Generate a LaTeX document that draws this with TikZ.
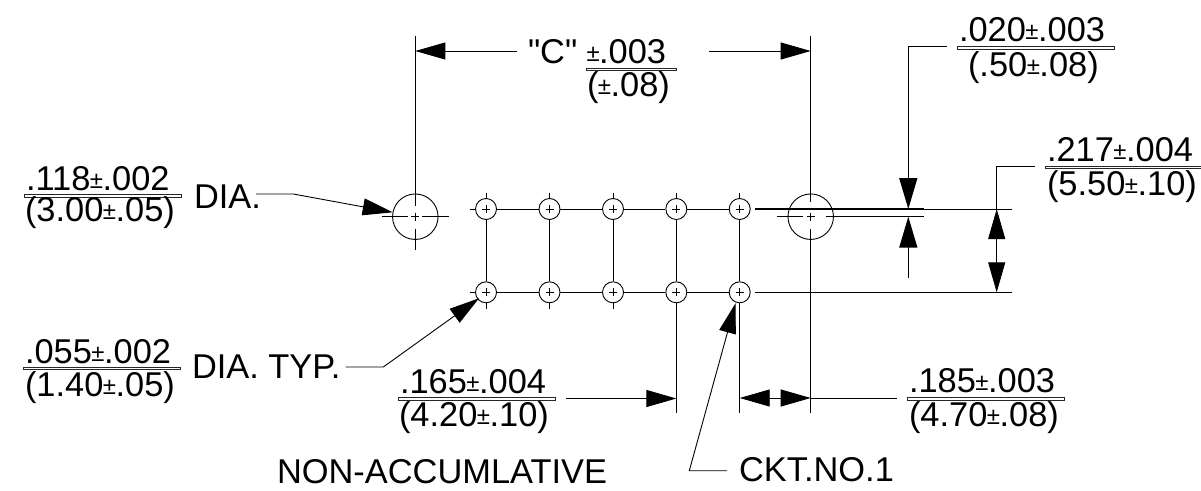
\documentclass[tikz,border=0pt]{standalone}
\usepackage{fontspec}
\setmainfont{Liberation Sans}
\newfontfamily\plainquote{Liberation Sans}
\usetikzlibrary{arrows.meta}
\newcommand{\tol}{{\fontsize{24}{24}\selectfont\hspace{-0.5pt}\raisebox{2pt}{±}\hspace{-0.5pt}}}
\tikzset{
  thin line/.style={line width=0.9pt,black},
  thick line/.style={line width=1.5pt,black},
  dim/.style={thin line,-{Triangle[length=30pt,width=17pt]}},
  dimthick/.style={thick line,-{Triangle[length=31pt,width=18pt]}},
  lbl/.style={anchor=base west,inner sep=0pt,outer sep=0pt,font=\fontsize{34.4}{40}\selectfont},
  fracrule/.style={line width=0.9pt,draw=black!85,fill=white},
  hole/.style={circle,draw=black,line width=0.9pt,minimum size=21pt,inner sep=0pt},
  bighole/.style={circle,draw=black,line width=0.9pt,minimum size=45.5pt,inner sep=0pt},
}
\begin{document}
\begin{tikzpicture}[x=1pt,y=-1pt]
\useasboundingbox (0,0) rectangle (1201,490);
% small holes
\foreach \n/\x in {a/486,b/549.5,c/613,d/676.3,e/739.7}{
  \node[hole] (t\n) at (\x,209) {};
  \node[hole] (u\n) at (\x,292.3) {};
  \draw[thin line] (\x-4,209)--(\x+4,209) (\x,205)--(\x,213);
  \draw[thin line] (\x-4,292.3)--(\x+4,292.3) (\x,288.3)--(\x,296.3);
  \draw[thin line] (\x,192.5)--(\x,198);
  \draw[thin line] (\x,302.8)--(\x,309);
  \draw[thin line] (t\n)--(u\n);
}
\foreach \p/\q in {a/b,b/c,c/d,d/e}{
  \draw[thin line] (t\p)--(t\q);
  \draw[thin line] (u\p)--(u\q);
}
\draw[thin line] (469.5,209)--(ta.west) (469.5,292.3)--(ua.west);
% big holes
\node[bighole] (L) at (415.3,216.7) {};
\node[bighole] (R) at (810.7,216.7) {};
\foreach \x in {415.3,810.7}{
  \draw[thin line] (\x-4,216.7)--(\x+4,216.7) (\x,212.7)--(\x,220.7);
  \draw[thin line] (\x,229)--(\x,250);
}
\draw[thin line] (381.5,216.7)--(407.5,216.7) (422,216.7)--(449,216.7);
\draw[thin line] (777,216.7)--(803,216.7);
\coordinate (Ltop) at (415.3,36);
\coordinate (Lin) at (415.3,206);
\draw[thin line] (Ltop)--(Lin);
\coordinate (Rtop) at (810.7,36);
\coordinate (Rin) at (810.7,202);
\coordinate (Rlow) at (810.7,413);
\draw[thin line] (Rtop)--(Rin) (810.7,250)--(Rlow);
% extension lines right
\coordinate (T0) at (755,209);
\coordinate (T1) at (924,209);
\coordinate (T2) at (1012,209);
\coordinate (M0) at (825.7,216.7);
\coordinate (M1) at (924,216.7);
\coordinate (B0) at (755,292.3);
\coordinate (B1) at (1012,292.3);
\draw[thick line] (T0)--(T1) (M0)--(M1);
\draw[thin line] (T1)--(T2) (B0)--(B1);
% lower extension lines
\coordinate (Xd0) at (676.3,308);
\coordinate (Xd1) at (676.3,413);
\coordinate (Xe0) at (739.7,308);
\coordinate (Xe1) at (739.7,413);
\draw[thin line] (Xd0)--(Xd1);
\draw[thin line] (Xe0)--(Xe1);
% "C" dimension
\node[lbl] (C) at (528,63) {{\plainquote"C"}};
\node[lbl] (Ctop) at (587,63) {\tol.003};
\draw[fracrule] (586.7,68) rectangle (676.7,70.5);
\node[lbl] (Cbot) at (587,96.7) {(\tol.08)};
\coordinate (CaL) at (517,51);
\coordinate (CaR) at (709,51);
\coordinate (CtL) at (415.3,51);
\coordinate (CtR) at (810.7,51);
\draw[dim] (CaL)--(CtL);
\draw[dim] (CaR)--(CtR);
% .020
\node[lbl] (A1) at (959,41.7) {.020\tol.003};
\draw[fracrule] (957,46.5) rectangle (1114,49);
\node[lbl] (A2) at (968,76) {(.50\tol.08)};
\coordinate (Al0) at (947,46.7);
\coordinate (Al1) at (908.3,46.7);
\coordinate (Al2) at (908.3,209);
\draw[dimthick] (Al0)--(Al1)--(Al2);
\coordinate (Ab0) at (908.3,278);
\coordinate (Ab1) at (908.3,216.7);
\draw[dimthick] (Ab0)--(Ab1);
% .217
\node[lbl] (B1t) at (1047,161.7) {.217\tol.004};
\draw[fracrule] (1045,166) rectangle (1203,168.5);
\node[lbl] (B2t) at (1047,195) {(5.50\tol.10)};
\coordinate (Bl0) at (1035,166.3);
\coordinate (Bl1) at (996.7,166.3);
\coordinate (Bl2) at (996.7,292.3);
\coordinate (Bu0) at (996.7,240);
\coordinate (Bu1) at (996.7,209);
\draw[dim] (Bl0)--(Bl1)--(Bl2);
\draw[dim] (Bu0)--(Bu1);
% .118
\node[lbl] (E1) at (26,190) {.118\tol.002};
\draw[fracrule] (24,194.5) rectangle (181,197);
\node[lbl] (E2) at (25,221.7) {(3.00\tol.05)};
\node[lbl] (E3) at (194,208) {DIA.};
\coordinate (El0) at (256,194);
\coordinate (El1) at (293.3,194);
\coordinate (El2) at (392.7,212.3);
\draw[dim] (El0)--(El1)--(El2);
% .055
\node[lbl] (F1) at (25,363) {.055\tol.002};
\draw[fracrule] (23,367) rectangle (180,369.5);
\node[lbl] (F2) at (25,396.7) {(1.40\tol.05)};
\node[lbl] (F3) at (192,378) {DIA. TYP.};
\coordinate (Fl0) at (345.7,367);
\coordinate (Fl1) at (383.3,367);
\coordinate (Fl2) at (479,298.3);
\draw[dim] (Fl0)--(Fl1)--(Fl2);
% .165
\node[lbl] (G1) at (400,393.3) {.165\tol.004};
\draw[fracrule] (398.3,397.5) rectangle (555,400);
\node[lbl] (G2) at (399,426.7) {(4.20\tol.10)};
\coordinate (Ga) at (566,398.5);
\coordinate (Gt) at (676.3,398.5);
\draw[dim] (Ga)--(Gt);
% .185
\node[lbl] (H1) at (909,392) {.185\tol.003};
\draw[fracrule] (907,397.5) rectangle (1064,400);
\node[lbl] (H2) at (909,426.7) {(4.70\tol.08)};
\coordinate (Hm) at (775,398);
\coordinate (Hl) at (739.7,398);
\coordinate (Hb) at (896.7,398);
\coordinate (Hr) at (810.7,398);
\draw[dim] (Hm)--(Hl);
\draw[dim] (Hm)--(Hr);
\draw[thin line] (Hr)--(Hb);
% CKT
\node[lbl] (K) at (739,481.7) {CKT.NO.1};
\coordinate (Kl0) at (727,470.7);
\coordinate (Kl1) at (689.3,470.7);
\coordinate (Kl2) at (735.5,303.3);
\draw[dim] (Kl0)--(Kl1)--(Kl2);
% note
\node[lbl] (N) at (277,483) {NON-ACCUMLATIVE};
\end{tikzpicture}
\end{document}
